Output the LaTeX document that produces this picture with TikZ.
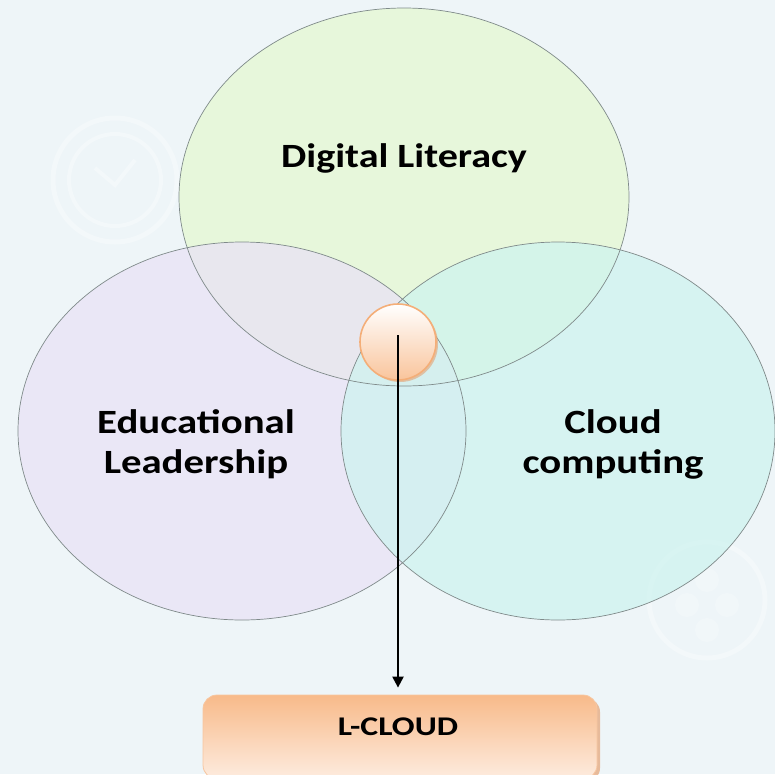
\documentclass[tikz,border=0pt]{standalone}
\usepackage{fontspec}
\usetikzlibrary{arrows.meta,shadows}
\newfontfamily\labfont{Carlito}
\definecolor{bg}{HTML}{EEF5F8}
\definecolor{greenf}{HTML}{E6F8D6}
\definecolor{lavf}{HTML}{E9E2F6}
\definecolor{cyanf}{HTML}{CDF3EF}
\definecolor{rimc}{HTML}{7F8A8A}
\definecolor{peachdark}{HTML}{F8BA8A}
\definecolor{peachlight}{HTML}{FDECDF}
\definecolor{peachrim}{HTML}{F4AE78}
\definecolor{shadowc}{HTML}{E5A273}
\tikzset{
  vennrim/.style={draw=rimc, line width=0.7pt},
  lab/.style={align=center, font=\labfont\bfseries\fontsize{34}{40}\selectfont, text=black},
  hub/.style={circle, minimum size=76pt, inner sep=0pt, draw=peachrim, line width=1.6pt,
     top color=white, bottom color=peachdark!85, drop shadow={shadow xshift=2pt, shadow yshift=-2pt, fill=shadowc, opacity=0.6}},
  outbox/.style={rounded corners=14pt, minimum width=394pt, minimum height=84pt, draw=peachrim!70, line width=0.8pt,
     shading angle=160, top color=peachdark, bottom color=peachlight,
     drop shadow={shadow xshift=3pt, shadow yshift=-3pt, fill=shadowc, opacity=0.7}},
  ring/.style={draw=white, opacity=0.3}
}
\begin{document}
\begin{tikzpicture}[x=1pt,y=-1pt]
\useasboundingbox (0,0) rectangle (775,774);
\clip (0,0) rectangle (775,774);
\fill[bg] (0,0) rectangle (775,774);
% faint background icons
\draw[ring, line width=5pt] (115,180) circle (62);
\draw[ring, line width=4pt] (115,180) circle (46);
\draw[ring, line width=4pt] (95,168) -- (115,185) -- (135,160);
\draw[ring, line width=5pt] (707,600) circle (58);
\fill[white, opacity=0.2] (707,580) circle (12) (687,605) circle (12) (727,605) circle (12) (707,630) circle (12);
% venn ellipses
\fill[greenf, fill opacity=0.85] (404,197) ellipse [x radius=225, y radius=189];
\fill[lavf, fill opacity=0.72] (242,431) ellipse [x radius=224, y radius=189];
\fill[cyanf, fill opacity=0.7] (558,431) ellipse [x radius=217, y radius=189];
\draw[vennrim] (404,197) ellipse [x radius=225, y radius=189];
\draw[vennrim] (242,431) ellipse [x radius=224, y radius=189];
\draw[vennrim] (558,431) ellipse [x radius=217, y radius=189];
\node[lab] (dl) at (404,158) {\scalebox{1.18}[1]{Digital Literacy}};
\node[lab] (el) at (196,445) {\scalebox{1.2}[1]{\begin{tabular}{@{}c@{}}Educational\\Leadership\end{tabular}}};
\node[lab] (cc) at (613,445) {\scalebox{1.2}[1]{\begin{tabular}{@{}c@{}}Cloud\\computing\end{tabular}}};
% hub and output
\node[hub] (h) at (398,342) {};
\node[outbox] (out) at (400,737) {};
\node[font=\labfont\bfseries\fontsize{27}{30}\selectfont] (outl) at (398,727) {\scalebox{1.25}[1]{L-CLOUD}};
\coordinate (hs) at (398,335);
\draw[line width=2.2pt, -{Triangle[width=11pt,length=11pt]}, shorten >=7pt] (hs) -- (hs |- out.north);
\end{tikzpicture}
\end{document}
